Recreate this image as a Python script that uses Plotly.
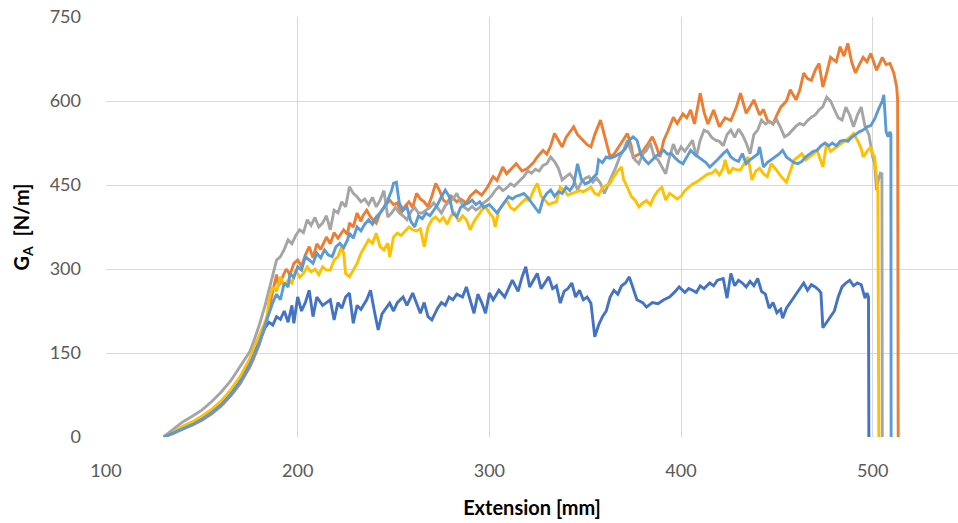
import plotly.graph_objects as go

# ---- Series 1 (dark blue) ----
s1_x = [130,135,140,145,150,155,160,165,170,172,175,177,180,183,185,187,189,191,193,195,197,198,200,202,204,206,208,210,213,215,217,219,221,223,225,227,229,231,233,236,238,240,242,244,246,248,250,252,255,257,260,262,264,266,268,270,273,275,277,279,281,283,286,288,290,292,294,296,298,300,302,305,308,310,312,315,317,319,321,323,325,327,329,331,333,335,337,339,341,343,345,347,349,351,353,355,357,359,361,363,365,367,369,371,373,375,377,380,382,385,388,391,394,397,399,402,404,406,408,410,412,415,417,419,422,424,426,428,430,432,434,436,438,440,442,444,446,448,450,452,453,455,458,460,462,464,466,468,470,472,473,474,476,478,480,482,484,486,488,490,492,494,496,497,497.8,498]
s1_y = [0,7,17,24,33,44,58,77,100,113,132,150,170,195,205,200,215,210,225,205,235,203,250,225,240,262,215,250,235,240,245,209,240,230,250,257,203,235,228,245,262,225,191,220,230,239,225,240,250,235,257,240,221,240,215,209,230,240,235,250,245,255,250,268,245,221,255,240,221,257,245,262,250,265,280,260,285,304,268,280,292,265,275,286,265,270,239,260,265,275,250,262,245,250,239,179,200,215,225,250,262,255,270,275,286,265,245,240,232,240,238,245,250,260,268,258,265,262,258,270,265,275,270,280,283,248,292,270,280,275,268,278,270,283,260,255,230,240,222,228,212,230,245,255,265,275,262,272,268,262,257,195,205,215,225,250,268,275,280,270,275,272,248,257,250,0]

# ---- Series 2 (orange) ----
s2_x = [130,135,140,145,150,155,160,165,170,172,175,177,180,183,185,187,189,190,192,194,196,198,200,202,204,206,208,210,212,215,217,219,221,224,226,227,229,231,233,234,236,238,240,241,243,245,248,250,252,254,256,258,260,262,264,266,268,270,272,274,276,278,280,283,285,288,290,293,296,299,302,304,307,309,311,314,317,320,323,325,328,330,332,334,336,338,340,342,344,346,349,351,353,355,358,360,362,363,365,367,370,372,374,375,378,380,383,385,387,389,391,393,396,398,401,403,405,407,410,412,414,417,420,423,426,429,431,434,436,438,441,443,445,448,450,452,455,457,460,462,464,466,468,470,472,474,476,478,481,483,485,487,489,491,493,495,497,499,501,502,504,505,507,509,511,512.5,513,513.3]
s2_y = [0,6,14,21,30,41,55,73,95,106,125,140,165,200,230,262,290,270,286,300,290,310,316,305,325,340,320,345,335,357,345,365,355,370,362,382,375,400,385,395,405,393,385,382,400,410,423,415,418,400,412,420,410,435,425,420,411,430,453,440,423,418,430,420,425,418,430,440,432,446,465,458,482,470,478,488,475,480,490,500,512,505,520,542,530,518,535,545,554,540,530,522,518,540,566,540,510,500,505,515,530,542,520,500,505,510,525,536,520,500,530,545,571,560,577,570,584,559,614,580,559,584,554,570,565,590,614,578,590,602,575,585,566,559,575,589,600,620,602,620,650,640,637,655,667,625,650,678,670,697,680,703,670,650,665,678,670,685,665,655,670,678,665,667,650,625,602,0]

# ---- Series 3 (grey) ----
s3_x = [130,135,140,145,150,155,160,165,170,172,175,177,180,183,185,187,189,191,193,195,197,199,201,203,205,207,209,211,213,215,217,219,221,223,225,227,229,231,233,235,237,239,241,243,245,247,249,251,253,255,257,259,261,263,265,267,269,271,273,275,277,279,281,283,285,287,289,291,293,295,297,299,301,303,305,307,309,311,313,316,318,320,322,324,326,328,330,332,334,336,338,340,342,344,346,348,350,352,354,356,358,360,362,364,366,368,370,372,374,376,378,380,382,384,386,388,390,392,394,396,398,400,402,404,406,408,410,412,414,416,418,420,422,424,426,428,430,432,434,436,438,440,442,444,446,448,450,452,454,456,458,460,462,464,466,468,470,472,474,476,478,480,482,484,486,488,490,492,494,496,498,500,501,502,503,504,504.8,505]
s3_y = [0,13,27,37,48,63,80,100,125,135,152,170,200,235,262,285,316,322,335,352,345,360,370,365,388,378,392,375,382,395,370,405,400,420,411,447,435,429,420,425,415,428,411,423,440,393,400,410,400,395,388,402,410,400,400,405,410,418,410,400,413,420,425,435,420,410,405,412,405,410,418,423,430,440,447,440,445,452,448,459,465,475,471,478,475,485,488,500,492,480,459,465,470,460,441,455,462,465,455,462,453,435,450,465,482,500,512,530,510,495,488,505,512,525,500,495,482,470,500,523,505,518,510,520,530,500,530,548,545,535,530,528,520,540,548,535,550,540,525,506,540,548,566,559,563,560,566,552,536,540,548,555,560,557,565,571,575,584,590,607,600,585,570,566,589,575,554,575,589,555,540,500,488,441,460,471,470,0]

# ---- Series 4 (yellow) ----
s4_x = [130,135,140,145,150,155,160,165,170,172,175,177,180,183,184,185,187,189,191,193,195,197,199,201,203,205,207,209,211,213,215,217,219,221,223,224,225,227,229,231,233,235,237,239,241,243,245,247,248,250,252,254,256,258,260,262,264,266,268,270,272,274,276,278,280,282,284,286,288,290,292,294,296,298,300,302,303,305,307,309,311,313,315,317,319,321,323,325,327,329,331,333,335,337,339,341,343,345,347,349,351,353,355,357,359,361,363,365,367,369,370,372,374,376,378,380,382,384,386,388,390,392,394,396,398,400,402,404,406,408,410,412,414,416,418,420,422,423,425,427,429,431,433,435,437,439,441,443,445,447,449,451,453,455,457,459,461,463,465,467,469,471,473,474,476,478,480,482,484,486,488,490,492,494,495,497,499,500,501,502,502.7,503.2]
s4_y = [0,8,19,27,37,49,64,84,108,120,140,158,180,205,215,245,268,260,286,270,280,275,298,285,292,304,295,300,290,304,298,298,316,322,340,328,292,286,298,310,328,340,352,346,364,340,334,346,322,357,364,360,368,375,370,368,372,340,375,388,393,385,392,380,395,400,385,395,388,370,385,395,405,411,400,392,375,405,415,423,410,405,412,418,425,423,440,453,430,423,415,418,420,446,440,432,435,438,440,438,442,446,435,432,446,450,453,465,475,482,460,446,430,423,411,418,422,415,430,440,446,423,435,430,425,430,440,446,452,455,460,465,470,471,477,468,480,495,470,480,477,477,488,500,459,475,480,470,465,488,480,470,462,455,475,495,500,506,495,500,505,512,490,482,525,510,515,520,525,530,535,542,530,515,500,510,518,506,500,465,435,0]

# ---- Series 5 (light blue) ----
s5_x = [130,135,140,145,150,155,160,165,170,172,175,177,180,183,185,187,189,191,193,195,196,198,200,202,204,206,208,210,212,214,216,218,220,222,224,226,227,229,231,233,235,237,239,241,243,245,247,249,250,251.5,253,255,257,259,261,263,265,267,269,271,273,275,277,279,281,283,285,287,289,291,293,295,297,300,302,304,306,308,310,312,314,316,318,320,322,324,326,328,330,332,334,336,338,340,342,344,346,348,350,352,354,356,357,359,361,363,365,367,369,371,373,375,377,379,381,383,385,387,389,391,393,395,397,399,401,403,405,407,409,411,413,415,417,419,422,424,426,428,430,432,434,436,438,440,441,443,445,447,449,451,453,455,457,459,461,463,465,467,469,471,473,475,477,479,481,483,485,487,489,491,493,495,497,499,501,503,505,505.8,507,508,509,509.5,509.6]
s5_y = [0,7,15,22,31,43,57,75,98,110,128,145,168,200,222,240,255,245,275,268,292,285,304,298,322,316,310,328,320,334,325,322,340,346,338,352,364,355,375,368,380,388,380,393,400,410,423,440,453,455,418,405,411,385,375,395,390,400,395,405,415,429,441,430,400,393,410,415,418,423,415,420,410,415,408,400,410,420,429,425,430,432,435,428,418,408,400,425,435,441,430,438,435,446,440,450,488,460,452,455,462,470,495,490,500,498,500,504,508,515,530,536,530,505,495,488,495,502,506,512,505,506,498,492,488,500,512,505,500,495,490,482,488,495,506,512,500,495,492,506,488,495,500,505,518,482,490,495,500,505,512,500,495,490,488,492,500,505,510,512,520,525,520,525,520,528,530,528,535,540,545,548,554,556,568,585,600,611,545,536,545,540,0]

series = [
    ("Series 1", s1_x, s1_y, "#4472C4"),
    ("Series 2", s2_x, s2_y, "#ED7D31"),
    ("Series 3", s3_x, s3_y, "#A5A5A5"),
    ("Series 4", s4_x, s4_y, "#FFC000"),
    ("Series 5", s5_x, s5_y, "#5B9BD5"),
]

FONT = "Lato, 'Open Sans', sans-serif"

fig = go.Figure()
for name, xs, ys, col in series:
    fig.add_trace(go.Scatter(x=xs, y=ys, mode="lines", name=name,
                             line=dict(color=col, width=2.9), hoverinfo="skip"))

fig.update_layout(
    width=958, height=523,
    margin=dict(l=106, r=0, t=17, b=86),
    paper_bgcolor="white", plot_bgcolor="white",
    showlegend=False,
    font=dict(family=FONT, size=18, color="#595959"),
)
fig.update_xaxes(
    range=[100, 544.5], tickvals=[100, 200, 300, 400, 500],
    showgrid=True, gridcolor="#D9D9D9", gridwidth=1,
    showline=False, zeroline=False, ticks="", ticklabelstandoff=21,
    automargin=False,
    tickfont=dict(size=18, color="#595959"),
    title=dict(text="<b>Extension [mm]</b>", font=dict(size=20, color="#000000"), standoff=20),
)
fig.update_yaxes(
    range=[0, 750], tickvals=[0, 150, 300, 450, 600, 750],
    showgrid=True, gridcolor="#D9D9D9", gridwidth=1,
    showline=False, zeroline=False, ticks="", ticklabelstandoff=24,
    automargin=False,
    tickfont=dict(size=18, color="#595959"),
    title=dict(text="<b>G<sub>A</sub>  [N/m]</b>", font=dict(size=20, color="#000000"), standoff=14),
)

fig.write_html(
    "out.html",
    config={"displayModeBar": False},
    post_script="document.body.style.margin='0';document.body.style.overflow='hidden';",
)
